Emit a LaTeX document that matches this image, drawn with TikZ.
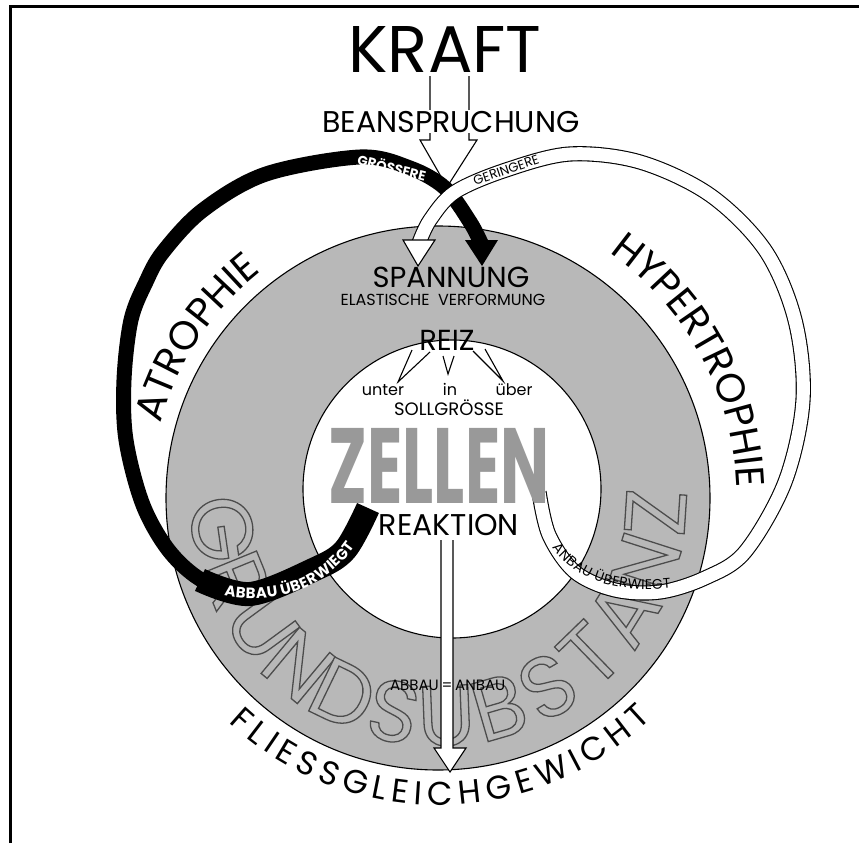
\documentclass[tikz,border=0pt]{standalone}
\usepackage{fontspec}
\setmainfont{Poppins}
\newfontfamily\grundfont{Poppins}[FakeBold=1.5]
\usetikzlibrary{decorations.text,calc}
\definecolor{grund}{gray}{0.72}
\definecolor{outl}{gray}{0.30}
\definecolor{stipple}{gray}{0.60}
\tikzset{
  bandblack/.style={draw=black, line width=15pt, line cap=butt},
  bandwhite/.style={draw=black, line width=1.1pt, double=white, double distance=13pt},
  thinline/.style={line width=1.1pt},
  lbl/.style={inner sep=0pt, anchor=base},
  arctext/.style={decorate, decoration={text along path, text align=center, text={#1}}},
  grundletter/.style={inner sep=0pt, text=grund, font=\grundfont\fontsize{86}{86}\selectfont},
}
\begin{document}
\begin{tikzpicture}[x=1pt,y=-1pt]
\useasboundingbox (0,0) rectangle (859,843);
\fill[white] (0,0) rectangle (859,843);
% frame
\draw[line width=3pt] (10,843) -- (10,6.5) -- (859,6.5);

% Grundsubstanz disk with outlined lettering
\coordinate (gc) at (438,498);
\filldraw[fill=grund, thinline] (gc) circle[radius=272];
\foreach \ch [count=\i from 0] in {G,R,U,N,D,S,U,B,S,T,A,N,Z} {
  \pgfmathsetmacro\ang{171.8-14*\i}
  \pgfmathsetmacro\rot{90-\ang}
  \node[grundletter, rotate=\rot] (g\i) at ($(gc)+(\ang:218)$) {\pgfsetstrokecolor{outl}\ch};
}

% cell disk
\coordinate (zc) at (452,489);
\filldraw[fill=white, thinline] (zc) circle[radius=149];

% KRAFT -> BEANSPRUCHUNG arrow
\node[lbl, font=\fontsize{66}{66}\selectfont] (kraft) at (445,72) {KRAFT};
\draw[thinline, fill=white] (430,76) -- (430,140) -- (420,140) -- (447,187) -- (477,140) -- (469,140) -- (469,76);
\node[lbl, fill=white, inner sep=1pt, font=\fontsize{30}{30}\selectfont] (bean) at (451,132) {BEANSPRUCHUNG};

% black loop (Atrophie)
\draw[bandblack] plot[smooth,tension=0.55] coordinates {(367,512) (345,550) (313,570) (250,594) (205,582) (170,552) (143,505) (126,440) (124,380) (131,320) (146,282) (163,252) (203,210) (266,174) (360,157) (410,168) (445,188) (470,222) (481,243)};
\draw[bandblack, line width=24pt] plot[smooth,tension=0.55] coordinates {(368,508) (345,550) (313,570) (250,594) (200,580)};
\fill (465,240) -- (498,240) -- (482,266) -- cycle;

% white loop (Hypertrophie)
\draw[bandwhite] plot[smooth,tension=0.55] coordinates {(539,492) (549,535) (575,572) (615,590) (660,592) (705,578) (745,552) (785,482) (803,400) (795,320) (765,250) (710,195) (640,162) (570,154) (506,170) (455,192) (430,220) (419,243)};
\filldraw[fill=white, thinline] (403,240) -- (435,240) -- (418,266) -- cycle;

\node[white, font=\bfseries\fontsize{13.5}{13.5}\selectfont, rotate=-14] (gross) at (392,167) {GRÖSSERE};
\node[font=\fontsize{13}{13}\selectfont, rotate=19] (ger) at (506,170) {GERINGERE};

\path[arctext={|\color{white}\bfseries\fontsize{15}{15}\selectfont|ABBAU ÜBERWIEGT}, decoration={raise=-5.5pt}]
  (200,582) .. controls (260,606) and (330,592) .. (364,520);
\path[arctext={|\fontsize{14}{14}\selectfont|ANBAU ÜBERWIEGT}, decoration={raise=-5pt}]
  (541,505) .. controls (552,570) and (610,600) .. (712,576);

% arc labels
\path[arctext={|\fontsize{40}{40}\selectfont|HYPERTROPHIE}]
  (gc) ++(-62:299) arc[start angle=-62, end angle=5, radius=299];
\path[arctext={|\fontsize{40}{40}\selectfont|ATROPHIE}]
  (gc) ++(190:287) arc[start angle=190, end angle=237, radius=287];
\path[decorate, decoration={text along path, text align=fit to path, text={|\fontsize{33}{33}\selectfont|FLIESSGLEICHGEWICHT}}]
  (gc) ++(133:307) arc[start angle=133, end angle=46, radius=307];

% inner texts
\node[lbl, font=\fontsize{29}{29}\selectfont] (spann) at (451,287) {SPANNUNG};
\node[lbl, font=\fontsize{16}{16}\selectfont] (elast) at (443,305) {ELASTISCHE\ \ VERFORMUNG};
\node[lbl, font=\fontsize{29}{29}\selectfont] (reiz) at (447,350) {REIZ};
\node[lbl, font=\fontsize{16}{16}\selectfont] (unter) at (383,395) {unter};
\node[lbl, font=\fontsize{16}{16}\selectfont] (in) at (450,395) {in};
\node[lbl, font=\fontsize{16}{16}\selectfont] (ueber) at (514,395) {über};
\node[lbl, font=\fontsize{18}{18}\selectfont] (soll) at (449,415) {SOLLGRÖSSE};
\draw[thinline] (412,350) -- (398,382) -- (430,352);
\draw[thinline] (443,356) -- (448,374) -- (454,356);
\draw[thinline] (473,351) -- (503,381) -- (485,349);

\node[lbl, text=stipple, font=\bfseries\fontsize{107}{107}\selectfont] (zellen) at (439,503) {\scalebox{0.61}[1]{ZELLEN}};
\node[lbl, font=\fontsize{30}{30}\selectfont] (reak) at (449,535) {REAKTION};

% Reaktion arrow
\filldraw[fill=white, thinline] (441,540) -- (441,748) -- (434,748) -- (450,772) -- (466,748) -- (453,748) -- (453,540);
\node[lbl, anchor=base east, font=\fontsize{15}{15}\selectfont] (abbau) at (439,690) {ABBAU};
\node[lbl, anchor=base, font=\fontsize{15}{15}\selectfont] (gleich) at (447,690) {=};
\node[lbl, anchor=base west, font=\fontsize{15}{15}\selectfont] (anbau) at (455,690) {ANBAU};
\end{tikzpicture}
\end{document}
